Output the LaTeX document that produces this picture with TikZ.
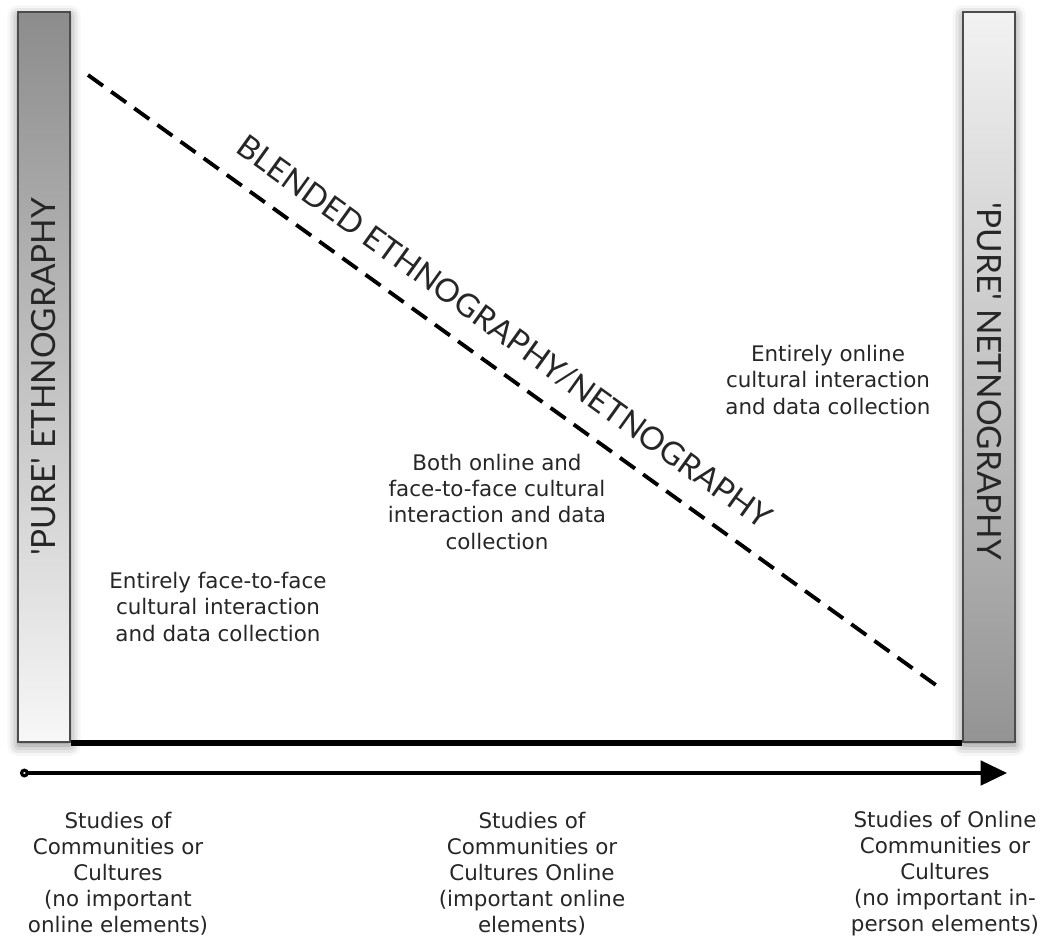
\documentclass[tikz,border=0pt]{standalone}
\usepackage{fontspec}
\setmainfont{DejaVu Sans}
\newfontfamily\capsfont{Lato}
\usetikzlibrary{arrows.meta,positioning,shadows.blur}

\begin{document}
\begin{tikzpicture}[x=0.02cm, y=-0.02cm, >=Stealth,
  bar/.style={draw=black!70, line width=1.1pt, minimum width=1.04cm, minimum height=14.6cm, inner sep=0pt,
    blur shadow={shadow xshift=0pt, shadow yshift=-2pt, shadow blur radius=6pt, shadow opacity=50}},
  barlbl/.style={font=\capsfont\fontsize{19}{19}\selectfont, inner sep=0pt, text=black!85},
  txt/.style={align=center, font=\fontsize{12.2}{14.8}\selectfont, inner sep=0pt, text=black!85},
  blend/.style={line width=2.2pt, dash pattern=on 0.37cm off 0.2cm}]
\useasboundingbox (0,0) rectangle (1046,937);
% bars at both ends
\node[bar, top color=black!45, bottom color=black!3] (ebar) at (44,377) {};
\node[bar, top color=black!5, bottom color=black!42] (nbar) at (989,377) {};
\node[barlbl, rotate=90] (elbl) at (ebar.center) {'PURE' ETHNOGRAPHY};
\node[barlbl, rotate=-90] (nlbl) at (989,381) {'PURE' NETNOGRAPHY};
\draw[line width=3.2pt] (ebar.south east) -- (nbar.south west);
% blended line
\coordinate (dtop) at (88,75);
\coordinate (dbot) at (940,688);
\draw[blend] (dtop) -- node[sloped, pos=0.465, above=0.4cm, inner sep=0pt, text=black!85, font=\capsfont\fontsize{18.2}{18.2}\selectfont] (blbl) {BLENDED ETHNOGRAPHY/NETNOGRAPHY} (dbot);
% regions
\node[txt] (ftf) at (218,607) {Entirely face-to-face\\cultural interaction\\and data collection};
\node[txt] (both) at (497,502) {Both online and\\face-to-face cultural\\interaction and data\\collection};
\node[txt] (onl) at (828,380) {Entirely online\\cultural interaction\\and data collection};
% axis
\coordinate (astart) at (20,773);
\coordinate (aend) at (1007,773);
\draw[line width=1.8pt, {Circle[open, length=5pt, width=5pt]}-{Triangle[length=15pt, width=14pt]}] (astart) -- (aend);
\node[txt] (s1) at (118,874) {Studies of\\Communities or\\Cultures\\(no important\\online elements)};
\node[txt] (s2) at (532,874) {Studies of\\Communities or\\Cultures Online\\(important online\\elements)};
\node[txt] (s3) at (945,874) {Studies of Online\\Communities or\\Cultures\\(no important in-\\person elements)};
\end{tikzpicture}
\end{document}
